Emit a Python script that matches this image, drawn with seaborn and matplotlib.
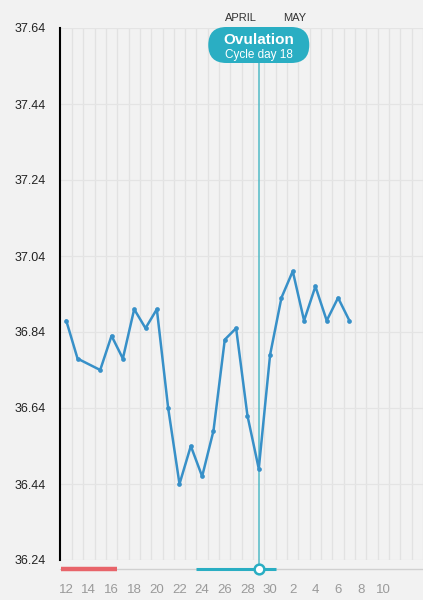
import numpy as np
import pandas as pd
import seaborn as sns
import matplotlib.pyplot as plt
from matplotlib.patches import FancyBboxPatch
from matplotlib.transforms import IdentityTransform

# chart data -------------------------------------------------
day_labels = [12, 13, 14, 15, 16, 17, 18, 19, 20, 21, 22, 23, 24, 25, 26, 27, 28, 29, 30,
              1, 2, 3, 4, 5, 6, 7, 8, 9, 10]
temps = [36.87, 36.77, None, 36.74, 36.83, 36.77, 36.90, 36.85, 36.90, 36.64,
         36.44, 36.54, 36.46, 36.58, 36.82, 36.85, 36.62, 36.48, 36.78,
         36.93, 37.00, 36.87, 36.96, 36.87, 36.93, 36.87, None, None, None]
y_ticks = [36.24, 36.44, 36.64, 36.84, 37.04, 37.24, 37.44, 37.64]
months = ['APRIL', 'MAY']
month_pos = [15.4, 20.2]          # where the month names sit (day index)
period_days = (0, 4)              # 12 - 16 : period
fertile_days = (12, 18)           # 24 - 30 : fertile window
ovulation_day = 17                # day 29
ovulation_title = 'Ovulation'
ovulation_sub = 'Cycle day 18'

df = pd.DataFrame({'idx': range(len(day_labels)), 'temp': temps}).dropna()

# style -------------------------------------------------------
bg = '#f2f2f2'
sns.set_style('white', {'axes.facecolor': bg, 'figure.facecolor': bg})
plt.rcParams['font.family'] = ['Liberation Sans', 'DejaVu Sans']

line_col = '#3790c8'
teal = '#2aaec3'
teal_line = '#52bac6'
red = '#e8646a'

fig = plt.figure(figsize=(4.23, 6), dpi=100)
ax = fig.add_axes([60 / 423, 40 / 600, 363 / 423, 532 / 600])

sns.lineplot(data=df, x='idx', y='temp', ax=ax, color=line_col, linewidth=1.8,
             marker='o', markersize=3.4, markeredgewidth=0, zorder=5)

cell = 363 / 11.33
ax.set_xlim(-0.55, -0.55 + cell)
ax.set_ylim(y_ticks[0], y_ticks[-1])

# ticks / grid
ax.set_yticks(y_ticks)
ax.set_yticklabels([f'{t:.2f}' for t in y_ticks])
major = list(range(0, len(day_labels), 2))
ax.set_xticks(major)
ax.set_xticklabels([str(day_labels[i]) for i in major])
ax.set_xticks(np.arange(0.5, cell, 1.0), minor=True)
ax.tick_params(axis='x', which='both', length=0, pad=17, labelsize=9.5, labelcolor='#9a9a9a')
ax.tick_params(axis='y', length=6.5, width=1.2, color='black', pad=4, labelsize=9,
               labelcolor='#222222')
ax.grid(axis='x', which='minor', color='#e2e2e2', linewidth=0.9)
ax.grid(axis='y', which='major', color='#e4e4e4', linewidth=0.9)
ax.set_xlabel('')
ax.set_ylabel('')
for s in ['top', 'right', 'bottom']:
    ax.spines[s].set_visible(False)
ax.spines['left'].set_linewidth(1.5)
ax.spines['left'].set_color('black')

# bottom strip: period, fertile window, ovulation marker
xt = ax.get_xaxis_transform()
strip_y = -9 / 532
ax.plot([-0.55, -0.55 + cell], [strip_y, strip_y], transform=xt, clip_on=False,
        color='#d0d0d0', linewidth=1.0, zorder=3)
ax.plot([period_days[0] - 0.5, period_days[1] + 0.5], [strip_y, strip_y], transform=xt,
        clip_on=False, color=red, linewidth=3.2, solid_capstyle='butt', zorder=4)
ax.plot([fertile_days[0] - 0.5, fertile_days[1] + 0.5], [strip_y, strip_y], transform=xt,
        clip_on=False, color=teal, linewidth=2.2, solid_capstyle='butt', zorder=4)

# ovulation line
ax.plot([ovulation_day, ovulation_day], [strip_y, (560 - 60) / 532], transform=xt,
        clip_on=False, color=teal_line, linewidth=1.1, zorder=4)
ax.plot([ovulation_day], [strip_y], transform=xt, clip_on=False, marker='o',
        markersize=7, markerfacecolor='white', markeredgecolor=teal,
        markeredgewidth=1.8, zorder=6)

# month names
for m, p in zip(months, month_pos):
    ax.text(p, 1 + 10 / 532, m, transform=xt, ha='center', va='center',
            fontsize=8, color='#333333')

# ovulation bubble (pixel coordinates)
cx = ax.transData.transform((ovulation_day, y_ticks[0]))[0]
w, h = 101, 36
top = 600 - 27
bubble = FancyBboxPatch((cx - w / 2, top - h), w, h,
                        boxstyle='round,pad=0,rounding_size=18',
                        transform=IdentityTransform(), facecolor=teal,
                        edgecolor='none', zorder=10)
fig.patches.append(bubble)
fig.text(cx / 423, 1 - 40 / 600, ovulation_title, ha='center', va='center',
         fontsize=11, fontweight='bold', color='white', zorder=11)
fig.text(cx / 423, 1 - 55 / 600, ovulation_sub, ha='center', va='center',
         fontsize=8.5, color='white', zorder=11)

fig.savefig('out.png', dpi=100, facecolor=bg)
